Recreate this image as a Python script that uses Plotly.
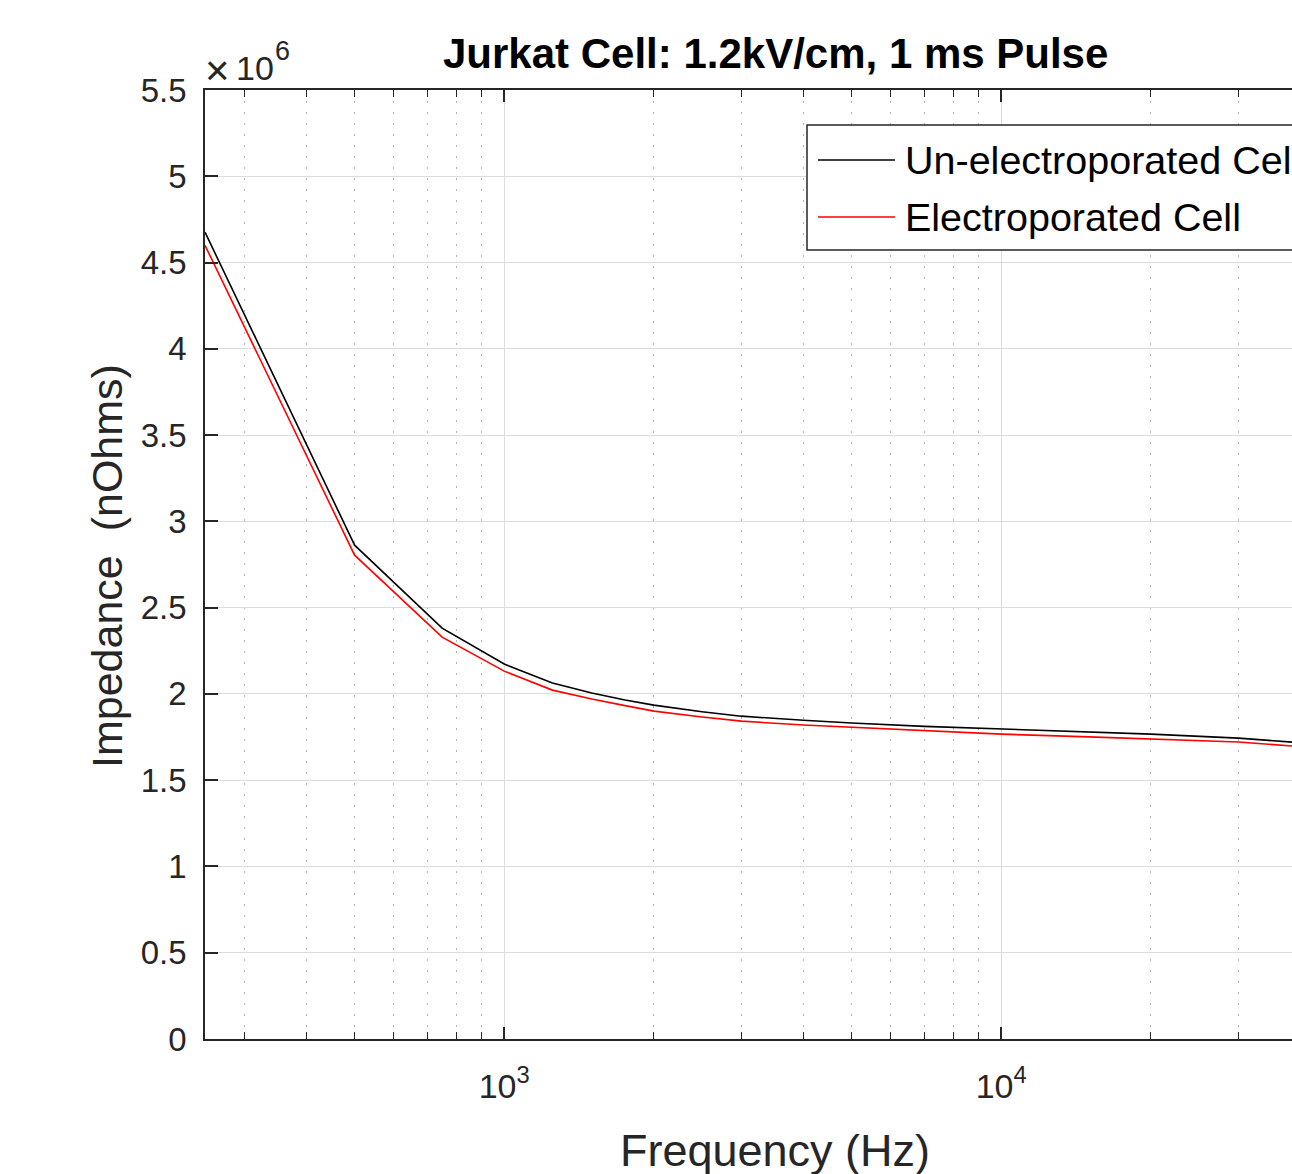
import plotly.graph_objects as go
import math

freq_hz = [250, 500, 750, 1000, 1250, 1500, 1750, 2000, 2500, 3000, 4000, 5000, 7000, 10000, 15000, 20000, 30000, 40000]
unelectroporated = [4.676e6, 2.862e6, 2.381e6, 2.173e6, 2.063e6, 2.005e6, 1.965e6, 1.935e6, 1.897e6, 1.871e6, 1.847e6, 1.831e6, 1.812e6, 1.796e6, 1.780e6, 1.767e6, 1.744e6, 1.717e6]
electroporated = [4.600e6, 2.804e6, 2.329e6, 2.132e6, 2.022e6, 1.970e6, 1.932e6, 1.900e6, 1.866e6, 1.842e6, 1.820e6, 1.808e6, 1.786e6, 1.767e6, 1.751e6, 1.738e6, 1.721e6, 1.695e6]
series_names = ["Un-electroporated Cell", "Electroporated Cell"]
series_colors = ["#000000", "#ff0000"]

y_tick_vals = [i * 0.5e6 for i in range(12)]
y_tick_text = ["0", "0.5", "1", "1.5", "2", "2.5", "3", "3.5", "4", "4.5", "5", "5.5"]
x_major_vals = [1000, 10000]
x_major_text = ["10<sup>3</sup>", "10<sup>4</sup>"]
x_minor_vals = [300, 400, 500, 600, 700, 800, 900, 2000, 3000, 4000, 5000, 6000, 7000, 8000, 9000, 20000, 30000]

FONT = "Liberation Sans, Arial, Helvetica, sans-serif"
AX = "#262626"
GRID = "#dcdcdc"

fig = go.Figure()
for name, ys, col in zip(series_names, [unelectroporated, electroporated], series_colors):
    fig.add_trace(go.Scatter(x=freq_hz, y=ys, mode="lines", name=name,
                             line=dict(color=col, width=1.6), showlegend=False))

W, H = 1292, 1174
# plot area in page pixels
PL, PT, PB, PR = 205, 90, 1039, 1292
L, T, R, B = PL, PT, W - PR, H - PB
pw = PR - PL
ph = PB - PT
x0 = math.log10(250)
x1 = x0 + pw / 497.0

fig.update_layout(
    width=W, height=H,
    margin=dict(l=L, r=R, t=T, b=B, pad=0),
    paper_bgcolor="white", plot_bgcolor="white",
    font=dict(family=FONT, color=AX),
    xaxis=dict(type="log", range=[x0, x1],
               tickmode="array", tickvals=x_major_vals, ticktext=x_major_text,
               ticks="inside", ticklen=12, tickwidth=1.5, tickcolor=AX,
               showline=True, linecolor=AX, linewidth=1.5, mirror="allticks",
               showgrid=True, gridcolor=GRID, gridwidth=1,
               tickfont=dict(size=34, color=AX), ticklabelstandoff=16,
               zeroline=False,
               minor=dict(tickmode="array", tickvals=x_minor_vals, ticks="inside",
                          ticklen=7, tickwidth=1.2, tickcolor=AX,
                          showgrid=True, gridcolor="#b4b4b4", griddash="2px,9px", gridwidth=1)),
    yaxis=dict(range=[0, 5.5e6], tickmode="array", tickvals=y_tick_vals, ticktext=y_tick_text,
               ticks="inside", ticklen=13, tickwidth=1.5, tickcolor=AX,
               showline=True, linecolor=AX, linewidth=1.5, mirror=False,
               showgrid=True, gridcolor=GRID, gridwidth=1,
               tickfont=dict(size=33, color=AX), ticklabelstandoff=10,
               zeroline=False),
)

def px_x(p):
    return (p - PL) / pw

def px_y(p):
    return 1 - (p - PT) / ph

def text_ann(text, x, y, size, color=AX, anchor="left", angle=0):
    return dict(text=text, x=px_x(x), y=px_y(y), xref="paper", yref="paper",
                showarrow=False, xanchor=anchor, yanchor="middle", textangle=angle,
                font=dict(size=size, color=color, family=FONT))

ann = []
ann.append(text_ann("<b>Jurkat Cell: 1.2kV/cm, 1 ms Pulse</b>", 775, 53, 42, "#000000", "center"))
# exponent label "×10^6"
ann.append(text_ann("×", 203, 70, 42))
ann.append(text_ann("10", 234, 68, 34))
ann.append(text_ann("6", 273, 51, 27))
ann.append(text_ann("Frequency (Hz)", 775, 1150, 45, AX, "center"))
ann.append(text_ann("Impedance\u00a0\u00a0(nOhms)", 107, 566, 43, AX, "center", -90))

shapes = []
shapes.append(dict(type="rect", xref="paper", yref="paper",
                   x0=px_x(807), x1=px_x(1330), y0=px_y(250), y1=px_y(125),
                   line=dict(color=AX, width=1.5), fillcolor="white", layer="above"))
for i, (name, col) in enumerate(zip(series_names, series_colors)):
    yc = 160 + i * 57
    shapes.append(dict(type="line", xref="paper", yref="paper",
                       x0=px_x(818), x1=px_x(895), y0=px_y(yc), y1=px_y(yc),
                       line=dict(color=col, width=1.5), layer="above"))
    ann.append(text_ann(name, 903, yc, 39.5, "#000000"))

fig.update_layout(annotations=ann, shapes=shapes)
fig.write_html("out.html", config={"displayModeBar": False},
               post_script="document.body.style.margin='0';document.body.style.overflow='hidden';")
